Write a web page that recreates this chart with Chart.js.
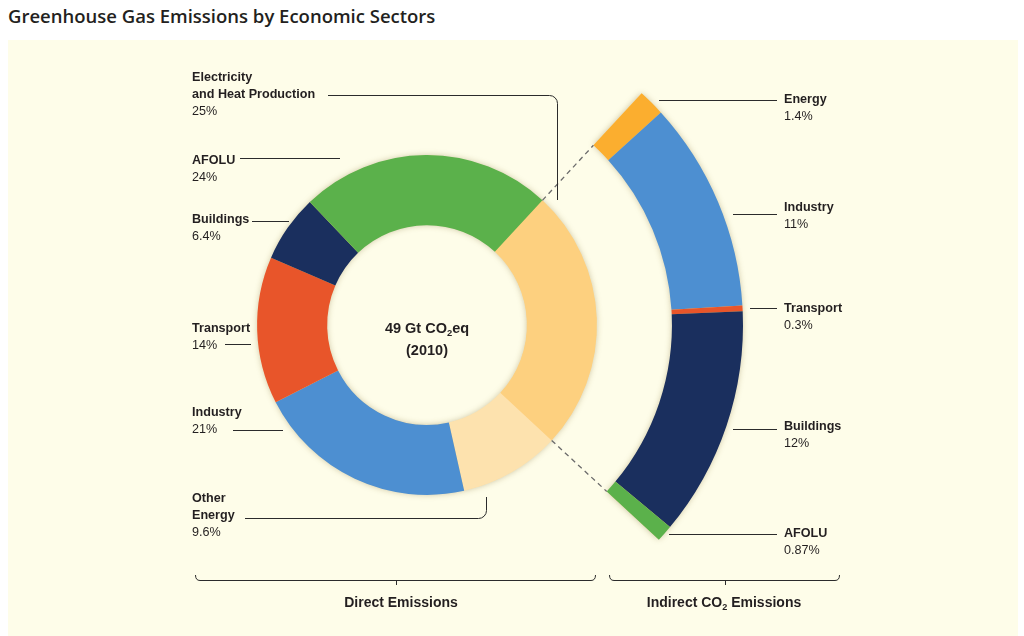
<!DOCTYPE html>
<html>
<head>
    <title>Greenhouse Gas Emissions by Economic Sectors</title>
    <script src="https://cdn.jsdelivr.net/npm/chart.js"></script>
    <style>
        html, body { margin: 0; padding: 0; background: #ffffff; overflow: hidden; }
        #title {
            position: absolute; left: 8px; top: 3px;
            font: 600 18.5px "Open Sans", sans-serif; color: #231f20;
        }
        #panel {
            position: absolute; left: 8px; top: 40px; width: 1010px; height: 596px;
            background: #fefde9;
        }
        #plot { position: absolute; left: 0; top: 0; }
    </style>
</head>
<body>
    <div id="title">Greenhouse Gas Emissions by Economic Sectors</div>
    <div id="panel"></div>
    <canvas id="plot" width="1024" height="636"></canvas>

    <script>
        // direct emissions, clockwise from the electricity slice
        const directSectors = ['Electricity|and Heat Production', 'Other|Energy', 'Industry', 'Transport', 'Buildings', 'AFOLU'];
        const directShares = [25, 9.6, 21, 14, 6.4, 24];
        const directColors = ['#fdd07f', '#fde2ae', '#4d8fd1', '#e8552a', '#1a2f5e', '#5bb14b'];

        // indirect CO2 emissions from electricity and heat, clockwise from the top
        const indirectSectors = ['Energy', 'Industry', 'Transport', 'Buildings', 'AFOLU'];
        const indirectShares = [1.4, 11, 0.3, 12, 0.87];
        const indirectColors = ['#fbae2f', '#4d8fd1', '#e8552a', '#1a2f5e', '#5bb14b'];

        const centerLines = ['49 Gt CO|2|eq', '(2010)'];
        const groupTitles = ['Direct Emissions', 'Indirect CO|2| Emissions'];

        // label placement: [text x, first line y, leader y, leader x1, leader x2]
        const directLabelPos = [
            [192, 78, 95, 328, 557],
            [192, 499, 518, 245, 486],
            [192, 413, 430, 233, 283],
            [192, 329, 344, 225, 251],
            [192, 220, 221, 252, 289],
            [192, 161, 158, 240, 340]
        ];
        const indirectLabelPos = [
            [784, 100, 100, 659, 777],
            [784, 208, 214, 733, 777],
            [784, 309, 308, 750, 777],
            [784, 427, 429, 733, 777],
            [784, 534, 534, 669, 777]
        ];

        const ink = '#231f20';
        const font = '"Liberation Sans", Arial, sans-serif';

        // text with a subscript part: 'CO|2|eq'
        function drawSub(ctx, str, x, y, size, weight, align) {
            const parts = str.split('|');
            let w = 0;
            parts.forEach((p, i) => {
                ctx.font = weight + ' ' + (i % 2 ? size * 0.65 : size) + 'px ' + font;
                w += ctx.measureText(p).width;
            });
            let cx = align === 'center' ? x - w / 2 : x;
            ctx.textAlign = 'left';
            parts.forEach((p, i) => {
                const sub = i % 2 === 1;
                ctx.font = weight + ' ' + (sub ? size * 0.65 : size) + 'px ' + font;
                ctx.fillText(p, cx, sub ? y + size * 0.3 : y);
                cx += ctx.measureText(p).width;
            });
        }

        const annotations = {
            id: 'annotations',
            beforeDatasetsDraw(chart) {
                // soft glow behind each ring, drawn once so slices get no seams
                const ctx = chart.ctx;
                [0, 2].forEach(d => {
                    const arcs = chart.getDatasetMeta(d).data;
                    const first = arcs[0], last = arcs[arcs.length - 1];
                    ctx.save();
                    ctx.shadowColor = 'rgba(120, 100, 40, 0.4)';
                    ctx.shadowBlur = 6;
                    ctx.fillStyle = directColors[0];
                    ctx.beginPath();
                    ctx.arc(first.x, first.y, first.outerRadius - 0.5, first.startAngle, last.endAngle);
                    ctx.arc(first.x, first.y, first.innerRadius + 0.5, last.endAngle, first.startAngle, true);
                    ctx.closePath();
                    ctx.fill();
                    ctx.restore();
                });
            },
            afterDatasetsDraw(chart) {
                const ctx = chart.ctx;
                const outer = chart.getDatasetMeta(0).data;
                const inner = chart.getDatasetMeta(2).data;
                const elec = inner[0];
                const cx = elec.x, cy = elec.y;

                // dashed connectors from the electricity slice to the indirect arc
                ctx.save();
                ctx.strokeStyle = '#6b6b6b';
                ctx.lineWidth = 1.3;
                ctx.setLineDash([5, 4]);
                [elec.startAngle, elec.endAngle].forEach(a => {
                    ctx.beginPath();
                    ctx.moveTo(cx + Math.cos(a) * elec.outerRadius, cy + Math.sin(a) * elec.outerRadius);
                    ctx.lineTo(cx + Math.cos(a) * outer[0].innerRadius, cy + Math.sin(a) * outer[0].innerRadius);
                    ctx.stroke();
                });
                ctx.restore();

                // leader lines
                ctx.save();
                ctx.strokeStyle = '#2b2b2b';
                ctx.lineWidth = 1;
                directLabelPos.forEach((p, i) => {
                    ctx.beginPath();
                    if (i === 0) {
                        ctx.moveTo(p[3], p[2] + 0.5);
                        ctx.arcTo(p[4] + 0.5, p[2] + 0.5, p[4] + 0.5, 200, 8);
                        ctx.lineTo(p[4] + 0.5, 200);
                    } else if (i === 1) {
                        ctx.moveTo(p[3], p[2] + 0.5);
                        ctx.arcTo(p[4] + 0.5, p[2] + 0.5, p[4] + 0.5, 497, 8);
                        ctx.lineTo(p[4] + 0.5, 497);
                    } else {
                        ctx.moveTo(p[3], p[2] + 0.5);
                        ctx.lineTo(p[4], p[2] + 0.5);
                    }
                    ctx.stroke();
                });
                indirectLabelPos.forEach(p => {
                    ctx.beginPath();
                    ctx.moveTo(p[3], p[2] + 0.5);
                    ctx.lineTo(p[4], p[2] + 0.5);
                    ctx.stroke();
                });

                // brackets under the two groups
                const brackets = [[195, 596, 396], [609, 840, 725]];
                brackets.forEach(b => {
                    ctx.beginPath();
                    ctx.moveTo(b[0] + 0.5, 575);
                    ctx.quadraticCurveTo(b[0] + 0.5, 580.5, b[0] + 5, 580.5);
                    ctx.lineTo(b[1] - 5, 580.5);
                    ctx.quadraticCurveTo(b[1] - 0.5, 580.5, b[1] - 0.5, 575);
                    ctx.moveTo(b[2] + 0.5, 580.5);
                    ctx.lineTo(b[2] + 0.5, 585);
                    ctx.stroke();
                });
                ctx.restore();

                // labels
                ctx.save();
                ctx.fillStyle = ink;
                ctx.textBaseline = 'middle';
                ctx.textAlign = 'left';
                const drawLabel = (name, share, p) => {
                    const lines = name.split('|');
                    ctx.font = 'bold 12.6px ' + font;
                    lines.forEach((l, k) => ctx.fillText(l, p[0], p[1] + k * 17));
                    ctx.font = '12.6px ' + font;
                    ctx.fillText(share + '%', p[0], p[1] + lines.length * 17);
                };
                directSectors.forEach((s, i) => drawLabel(s, directShares[i], directLabelPos[i]));
                indirectSectors.forEach((s, i) => drawLabel(s, indirectShares[i], indirectLabelPos[i]));

                drawSub(ctx, centerLines[0], cx, cy + 4, 14.5, 'bold', 'center');
                ctx.font = 'bold 14.5px ' + font;
                ctx.textAlign = 'center';
                ctx.fillText(centerLines[1], cx, cy + 26);

                drawSub(ctx, groupTitles[0], 401, 603, 14, '600', 'center');
                drawSub(ctx, groupTitles[1], 724, 603, 14, '600', 'center');
                ctx.restore();
            }
        };

        const ctx = document.getElementById('plot').getContext('2d');
        const chart = new Chart(ctx, {
            type: 'doughnut',
            data: {
                labels: directSectors,
                datasets: [
                    {
                        label: 'Indirect',
                        data: indirectShares,
                        backgroundColor: indirectColors,
                        rotation: 42.8,
                        circumference: 90,
                        weight: 71
                    },
                    {
                        label: 'gap',
                        data: [1],
                        backgroundColor: 'rgba(0,0,0,0)',
                        weight: 75
                    },
                    {
                        label: 'Direct',
                        data: directShares,
                        backgroundColor: directColors,
                        rotation: 42.8,
                        weight: 70
                    }
                ]
            },
            options: {
                responsive: false,
                animation: false,
                events: [],
                radius: 316,
                cutout: '31.6%',
                borderWidth: 0,
                layout: { padding: { left: 0, right: 170, top: 14, bottom: 0 } },
                plugins: {
                    legend: { display: false },
                    tooltip: { enabled: false }
                }
            },
            plugins: [annotations]
        });
    </script>
</body>
</html>
